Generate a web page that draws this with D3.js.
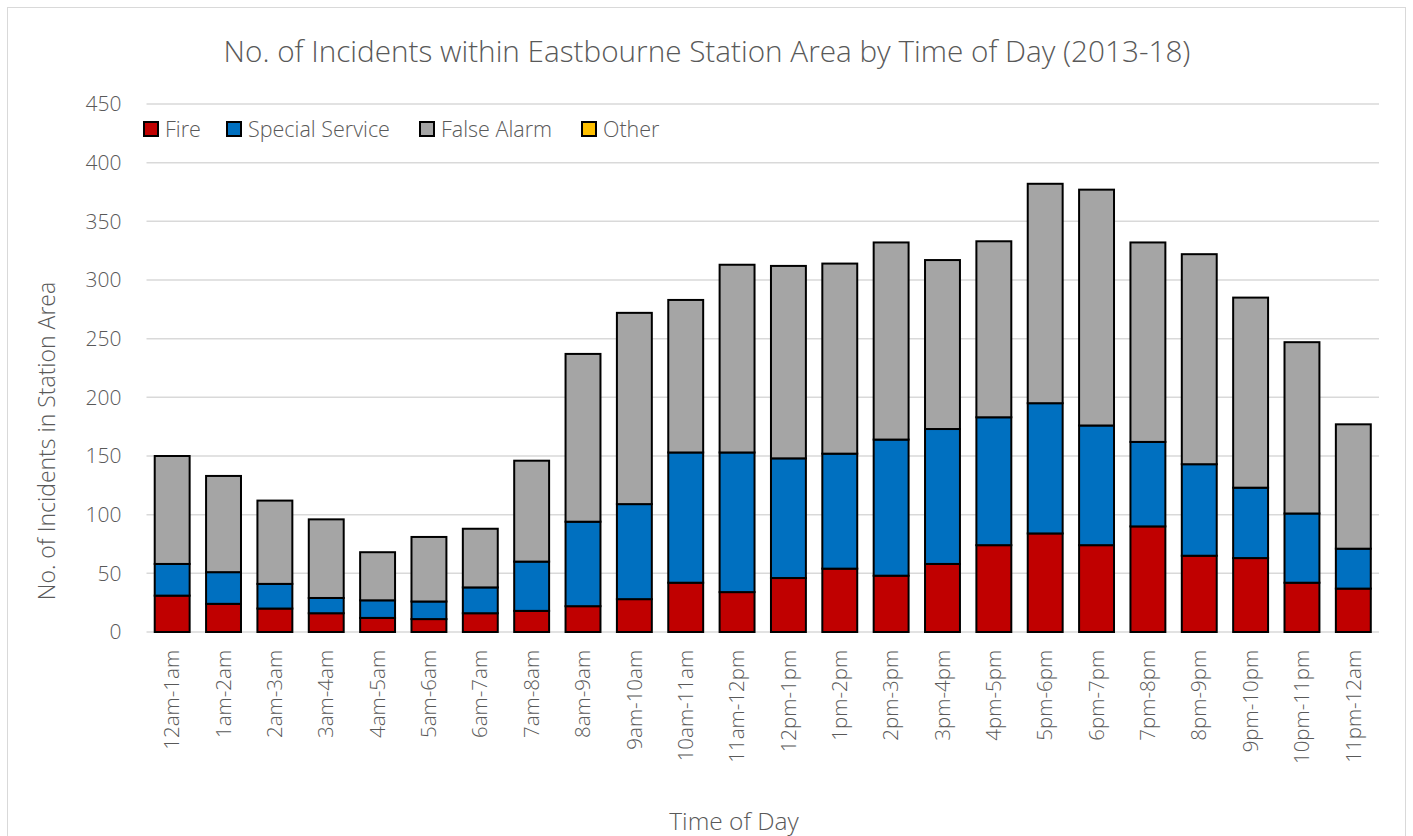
<!DOCTYPE html>
<html>
<head>
<meta charset="utf-8">
<script src="https://cdn.jsdelivr.net/npm/d3@7"></script>
<style>
  html, body { margin: 0; padding: 0; background: #fff; }
  svg { display: block; font-family: "Open Sans", "Noto Sans", sans-serif; font-weight: 300; }
</style>
</head>
<body>
<svg id="chart" width="1413" height="836"></svg>
<script>
// Hour bands of the day
const categories = ["12am-1am","1am-2am","2am-3am","3am-4am","4am-5am","5am-6am","6am-7am","7am-8am",
  "8am-9am","9am-10am","10am-11am","11am-12pm","12pm-1pm","1pm-2pm","2pm-3pm","3pm-4pm",
  "4pm-5pm","5pm-6pm","6pm-7pm","7pm-8pm","8pm-9pm","9pm-10pm","10pm-11pm","11pm-12am"];

// Incident counts per band, by incident type
const fire           = [31,24,20,16,12,11,16,18,22,28,42,34,46,54,48,58,74,84,74,90,65,63,42,37];
const specialService = [27,27,21,13,15,15,22,42,72,81,111,119,102,98,116,115,109,111,102,72,78,60,59,34];
const falseAlarm     = [92,82,71,67,41,55,50,86,143,163,130,160,164,162,168,144,150,187,201,170,179,162,146,106];
const other          = [0,0,0,0,0,0,0,0,0,0,0,0,0,0,0,0,0,0,0,0,0,0,0,0];

const seriesNames  = ["Fire","Special Service","False Alarm","Other"];
const seriesColors = ["#c00000","#0070c0","#a5a5a5","#ffc000"];
const yTicks = [0,50,100,150,200,250,300,350,400,450];

const rows = categories.map((c, i) => ({
  cat: c,
  "Fire": fire[i],
  "Special Service": specialService[i],
  "False Alarm": falseAlarm[i],
  "Other": other[i]
}));

const svg = d3.select("#chart");
const W = 1413, H = 836;
const m = { left: 146.5, right: 34, top: 104, bottom: 204 };
const textColor = "#595959";

// outer chart frame
svg.append("rect")
  .attr("x", 7.5).attr("y", 7.5)
  .attr("width", 1398).attr("height", 840)
  .attr("fill", "#fff").attr("stroke", "#d9d9d9").attr("stroke-width", 1);

const x = d3.scaleBand()
  .domain(categories)
  .range([m.left, W - m.right])
  .paddingInner(0.32)
  .paddingOuter(0.16);

const y = d3.scaleLinear()
  .domain([0, 450])
  .range([H - m.bottom, m.top]);

// horizontal gridlines
svg.append("g")
  .selectAll("line")
  .data(yTicks)
  .join("line")
  .attr("x1", m.left).attr("x2", W - m.right)
  .attr("y1", d => y(d)).attr("y2", d => y(d))
  .attr("stroke", "#d9d9d9").attr("stroke-width", 1.5);

// y axis labels
const yAxis = d3.axisLeft(y).tickValues(yTicks).tickSize(0).tickPadding(0);
const gy = svg.append("g").attr("transform", `translate(${m.left - 25},0)`).call(yAxis);
gy.select(".domain").remove();
gy.selectAll("text")
  .attr("fill", textColor)
  .style("font-size", "21px")
  .style("font-family", "'Open Sans', sans-serif")
  .style("font-weight", 300);

// stacked bars
const stack = d3.stack().keys(seriesNames);
const stacked = stack(rows);

const layers = svg.append("g")
  .selectAll("g")
  .data(stacked)
  .join("g")
  .attr("fill", (d, i) => seriesColors[i]);

layers.selectAll("rect")
  .data(d => d.filter(s => s[1] - s[0] > 0))
  .join("rect")
  .attr("x", d => x(d.data.cat))
  .attr("width", x.bandwidth())
  .attr("y", d => y(d[1]))
  .attr("height", d => y(d[0]) - y(d[1]))
  .attr("stroke", "#000")
  .attr("stroke-width", 2);

// x axis labels (rotated)
const xAxis = d3.axisBottom(x).tickSize(0).tickPadding(0);
const gx = svg.append("g").attr("transform", `translate(0,${y(0)})`).call(xAxis);
gx.select(".domain").remove();
gx.selectAll("text")
  .attr("fill", textColor)
  .style("font-size", "20.5px")
  .style("font-family", "'Open Sans', sans-serif")
  .style("font-weight", 300)
  .attr("text-anchor", "end")
  .attr("dy", "0.35em")
  .attr("transform", "translate(0,18) rotate(-90)")
  .attr("y", 0).attr("x", 0);

// title
svg.append("text")
  .attr("x", 707).attr("y", 62)
  .attr("text-anchor", "middle")
  .attr("fill", textColor)
  .style("font-size", "29.7px")
  .text("No. of Incidents within Eastbourne Station Area by Time of Day (2013-18)");

// axis titles
svg.append("text")
  .attr("transform", `translate(55,${441}) rotate(-90)`)
  .attr("text-anchor", "middle")
  .attr("fill", textColor)
  .style("font-size", "23px")
  .text("No. of Incidents in Station Area");

svg.append("text")
  .attr("x", 734).attr("y", 830)
  .attr("text-anchor", "middle")
  .attr("fill", textColor)
  .style("font-size", "24.5px")
  .text("Time of Day");

// legend
const legendX = [144, 227, 420, 582];
const legend = svg.append("g")
  .selectAll("g")
  .data(seriesNames)
  .join("g")
  .attr("transform", (d, i) => `translate(${legendX[i]},122)`);

legend.append("rect")
  .attr("x", 0).attr("y", 0)
  .attr("width", 14).attr("height", 14)
  .attr("fill", (d, i) => seriesColors[i])
  .attr("stroke", "#000").attr("stroke-width", 2);

legend.append("text")
  .attr("x", 21).attr("y", 15)
  .attr("fill", textColor)
  .style("font-size", "21.5px")
  .text(d => d);
</script>
</body>
</html>
